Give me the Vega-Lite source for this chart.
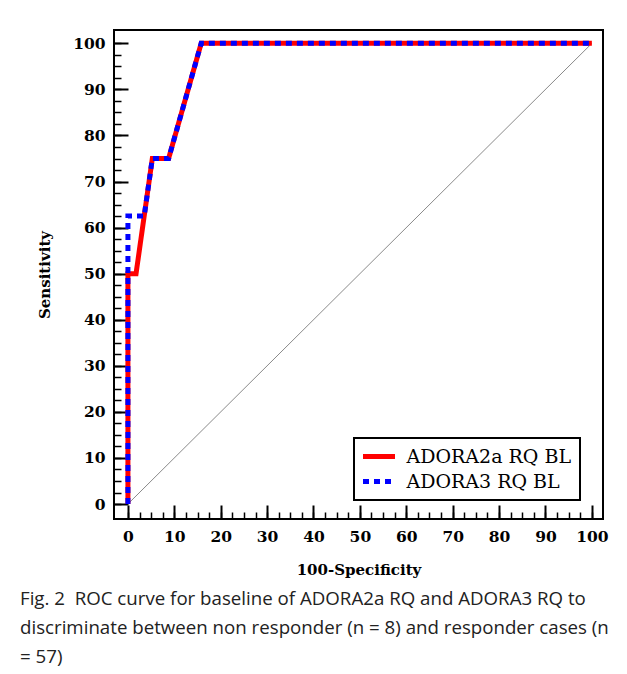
{
  "$schema": "https://vega.github.io/schema/vega-lite/v6.json",
  "width": 489,
  "height": 489,
  "autosize": "none",
  "padding": {"left": 114, "top": 30, "right": 24, "bottom": 155},
  "background": "white",
  "datasets": {
    "roc": [
      {"series": "ADORA2a RQ BL", "i": 0, "fpr": 0, "sens": 0},
      {"series": "ADORA2a RQ BL", "i": 1, "fpr": 0, "sens": 50},
      {"series": "ADORA2a RQ BL", "i": 2, "fpr": 1.75, "sens": 50},
      {"series": "ADORA2a RQ BL", "i": 3, "fpr": 5.26, "sens": 75},
      {"series": "ADORA2a RQ BL", "i": 4, "fpr": 8.77, "sens": 75},
      {"series": "ADORA2a RQ BL", "i": 5, "fpr": 15.79, "sens": 100},
      {"series": "ADORA2a RQ BL", "i": 6, "fpr": 100, "sens": 100},
      {"series": "ADORA3 RQ BL", "i": 0, "fpr": 0, "sens": 0},
      {"series": "ADORA3 RQ BL", "i": 1, "fpr": 0, "sens": 62.5},
      {"series": "ADORA3 RQ BL", "i": 2, "fpr": 3.51, "sens": 62.5},
      {"series": "ADORA3 RQ BL", "i": 3, "fpr": 5.26, "sens": 75},
      {"series": "ADORA3 RQ BL", "i": 4, "fpr": 8.77, "sens": 75},
      {"series": "ADORA3 RQ BL", "i": 5, "fpr": 15.79, "sens": 100},
      {"series": "ADORA3 RQ BL", "i": 6, "fpr": 100, "sens": 100}
    ],
    "diag": [
      {"x": 0, "y": 0},
      {"x": 100, "y": 100}
    ]
  },
  "title": {
    "text": [
      "Fig. 2\u00a0 ROC curve for baseline of ADORA2a RQ and ADORA3 RQ to",
      "discriminate between non responder (n = 8) and responder cases (n",
      "= 57)"
    ],
    "orient": "bottom",
    "anchor": "start",
    "frame": "group",
    "dx": -94,
    "offset": 12,
    "font": "Open Sans",
    "fontSize": 18.7,
    "fontWeight": "normal",
    "color": "#222222",
    "lineHeight": 29
  },
  "layer": [
    {
      "data": {"name": "diag"},
      "mark": {"type": "line", "color": "#8a8a8a", "strokeWidth": 1},
      "encoding": {
        "x": {
          "field": "x",
          "type": "quantitative",
          "scale": {"domain": [-3, 102.4], "nice": false, "zero": false},
          "axis": {
            "orient": "bottom",
            "values": [0,2.5,5,7.5,10,12.5,15,17.5,20,22.5,25,27.5,30,32.5,35,37.5,40,42.5,45,47.5,50,52.5,55,57.5,60,62.5,65,67.5,70,72.5,75,77.5,80,82.5,85,87.5,90,92.5,95,97.5,100],
            "tickSize": -7,
            "tickWidth": 1.5,
            "tickColor": "black",
            "labels": false,
            "domain": false,
            "grid": false,
            "title": null
          }
        },
        "y": {
          "field": "y",
          "type": "quantitative",
          "scale": {"domain": [-3.25, 102.9], "nice": false, "zero": false},
          "axis": {
            "orient": "left",
            "values": [0,2.5,5,7.5,10,12.5,15,17.5,20,22.5,25,27.5,30,32.5,35,37.5,40,42.5,45,47.5,50,52.5,55,57.5,60,62.5,65,67.5,70,72.5,75,77.5,80,82.5,85,87.5,90,92.5,95,97.5,100],
            "tickSize": -7,
            "tickWidth": 1.5,
            "tickColor": "black",
            "labels": false,
            "domain": false,
            "grid": false,
            "title": null
          }
        }
      }
    },
    {
      "data": {"name": "roc"},
      "mark": {"type": "line", "strokeWidth": 5},
      "encoding": {
        "x": {
          "field": "fpr",
          "type": "quantitative",
          "axis": {
            "orient": "bottom",
            "values": [0,10,20,30,40,50,60,70,80,90,100],
            "tickSize": -14,
            "tickWidth": 2,
            "tickColor": "black",
            "domain": false,
            "grid": false,
            "labelFont": "DejaVu Serif",
            "labelFontWeight": "bold",
            "labelFontSize": 15.5,
            "labelColor": "black",
            "labelPadding": 24,
            "title": "100-Specificity",
            "titleFont": "DejaVu Serif",
            "titleFontWeight": "bold",
            "titleFontSize": 15,
            "titleColor": "black",
            "titlePadding": 18
          }
        },
        "y": {
          "field": "sens",
          "type": "quantitative",
          "axis": {
            "orient": "left",
            "values": [0,10,20,30,40,50,60,70,80,90,100],
            "tickSize": -14,
            "tickWidth": 2,
            "tickColor": "black",
            "domain": false,
            "grid": false,
            "labelFont": "DejaVu Serif",
            "labelFontWeight": "bold",
            "labelFontSize": 15.5,
            "labelColor": "black",
            "labelPadding": 23,
            "title": "Sensitivity",
            "titleFont": "DejaVu Serif",
            "titleFontWeight": "bold",
            "titleFontSize": 15,
            "titleColor": "black",
            "titlePadding": 20
          }
        },
        "color": {
          "field": "series",
          "type": "nominal",
          "scale": {"domain": ["ADORA2a RQ BL", "ADORA3 RQ BL"], "range": ["#ff0000", "#0000ff"]},
          "legend": {
            "title": null,
            "orient": "none",
            "legendX": 240,
            "legendY": 408,
            "direction": "vertical",
            "strokeColor": "black",
            "padding": 8,
            "symbolType": "M-2,0H2",
            "symbolSize": 256,
            "symbolStrokeWidth": 5,
            "symbolOffset": 6.5,
            "labelOffset": 17,
            "labelFont": "DejaVu Serif",
            "labelFontSize": 19,
            "labelColor": "black",
            "labelLimit": 400,
            "rowPadding": 4
          }
        },
        "strokeDash": {
          "field": "series",
          "type": "nominal",
          "scale": {"domain": ["ADORA2a RQ BL", "ADORA3 RQ BL"], "range": [[1, 0], [6, 5]]}
        },
        "order": {"field": "i", "type": "quantitative"}
      }
    }
  ],
  "resolve": {"axis": {"x": "independent", "y": "independent"}},
  "config": {
    "view": {"stroke": "black", "strokeWidth": 2},
    "axis": {"domain": false, "grid": false},
    "legend": {"strokeWidth": 2}
  }
}
